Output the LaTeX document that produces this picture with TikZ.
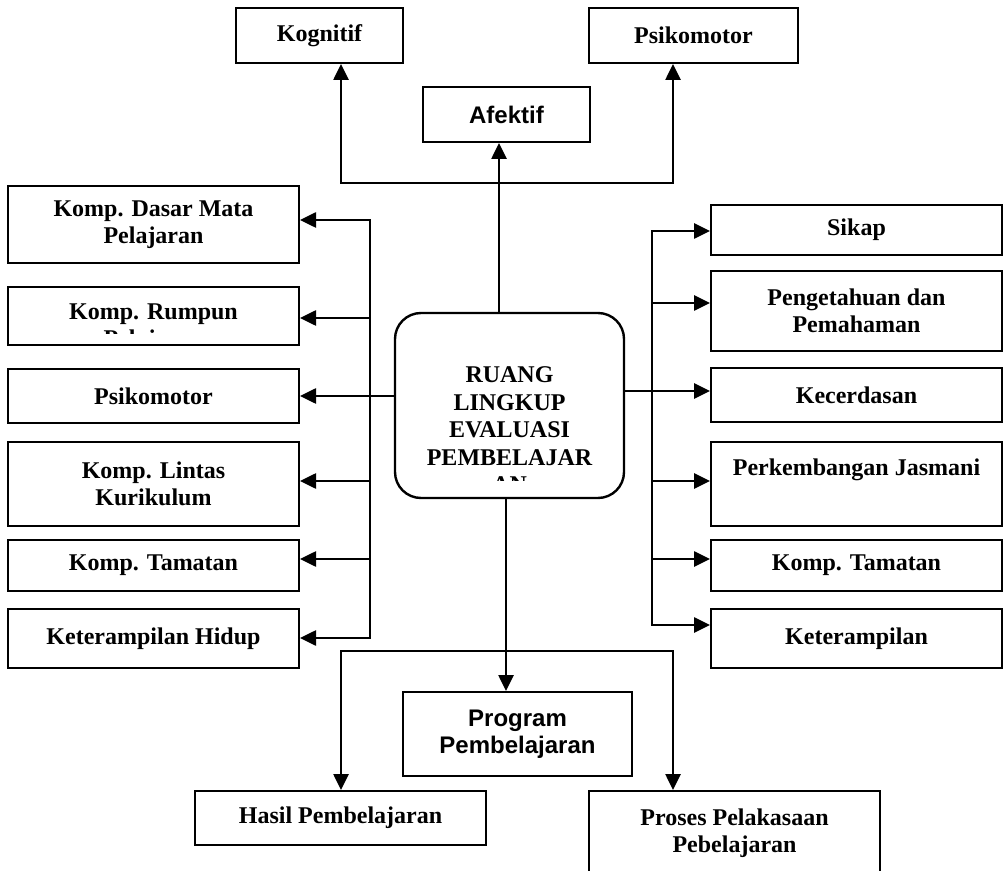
\documentclass[tikz,border=0pt]{standalone}
\usepackage{fontspec}
\setmainfont{Liberation Serif}
\newfontfamily\arialfont{Liberation Sans}
\definecolor{ink}{HTML}{000000}
\usetikzlibrary{arrows.meta}
\tikzset{>={Triangle[length=8pt,width=7.5pt]},
  wh/.style 2 args={minimum width=#1*0.5pt,minimum height=#2*0.5pt},
  box/.style={draw=ink,line width=1pt,align=center,inner sep=2pt,text=ink,
    font=\fontsize{12}{13.5}\selectfont\bfseries},
  sansbox/.style={box,font=\arialfont\fontsize{12}{13.5}\selectfont\bfseries},
  hub/.style={box,rounded corners=13pt,line width=1.2pt},
  txt/.style={align=center,inner sep=0pt,text=ink,font=\fontsize{12}{13.75}\selectfont\bfseries},
  flow/.style={->,line width=1.3pt,draw=ink},
  flowb/.style={flow,<->}}

\begin{document}
\begin{tikzpicture}[x=0.5pt,y=-0.5pt]
  \useasboundingbox (0,0) rectangle (1006,871);
  \clip (0,0) rectangle (1006,871);
  % top row
  \node[box,wh={167}{55}] (kog) at (319.5,35.5) {Kognitif};
  \node[box,wh={209}{55}] (psiT) at (693.5,35.5) {Psikomotor};
  \node[sansbox,wh={167}{55}] (afe) at (506.5,114.5) {Afektif};
  % centre
  \node[hub,wh={229}{185},path picture={
      \clip ([yshift=9pt]path picture bounding box.south west) rectangle (path picture bounding box.north east);
      \node[txt] at ([yshift=-12.25pt]path picture bounding box.center) {RUANG\\LINGKUP\\EVALUASI\\PEMBELAJAR\\AN};}]
    (ctr) at (509.5,405.5) {};
  % left column
  \node[box,wh={291}{77}] (dasar) at (153.5,224.5) {Komp. Dasar Mata\\Pelajaran};
  \node[box,wh={291}{58},path picture={
      \clip ([yshift=5.5pt]path picture bounding box.south west) rectangle (path picture bounding box.north east);
      \node[txt,font=\fontsize{12}{13.5}\selectfont\bfseries] at ([yshift=-6pt]path picture bounding box.center) {Komp. Rumpun\\Pelajaran};}]
    (rumpun) at (153.5,316) {};
  \node[box,wh={291}{54}] (psiL) at (153.5,396) {Psikomotor};
  \node[box,wh={291}{84}] (lintas) at (153.5,484) {Komp. Lintas\\Kurikulum};
  \node[box,wh={291}{51}] (tamL) at (153.5,565.5) {Komp. Tamatan};
  \node[box,wh={291}{59}] (hidup) at (153.5,638.5) {Keterampilan Hidup};
  % right column
  \node[box,wh={291}{50}] (sikap) at (856.5,230) {Sikap};
  \node[box,wh={291}{80}] (tahu) at (856.5,311) {Pengetahuan dan\\Pemahaman};
  \node[box,wh={291}{54}] (cerdas) at (856.5,395) {Kecerdasan};
  \node[box,wh={291}{84},text depth=17pt] (jasmani) at (856.5,484) {Perkembangan Jasmani};
  \node[box,wh={291}{51}] (tamR) at (856.5,565.5) {Komp. Tamatan};
  \node[box,wh={291}{59}] (terampil) at (856.5,638.5) {Keterampilan};
  % bottom row
  \node[sansbox,wh={229}{84}] (prog) at (517.5,734) {Program\\Pembelajaran};
  \node[box,wh={291}{54}] (hasil) at (340.5,818) {Hasil Pembelajaran};
  \node[box,wh={291}{84}] (proses) at (734.5,833) {Proses Pelakasaan\\Pebelajaran};

  % top connectors
  \coordinate (tl) at (341,183); \coordinate (tr) at (673,183); \coordinate (ta) at (499,183);
  \draw[flowb] (kog.south -| tl) |- (tr) -- (psiT.south -| tr);
  \draw[flow] (ctr.north -| ta) -- (afe.south -| ta);
  % left bus
  \coordinate (lt) at (370,220); \coordinate (lb) at (370,638); \coordinate (lc) at (370,396);
  \draw[flowb] (dasar.east |- lt) -- (lt) -- (lb) -- (hidup.east |- lb);
  \foreach \n/\y in {rumpun/318,lintas/481,tamL/559}{
    \coordinate (l\n) at (370,\y);
    \draw[flow] (l\n) -- (l\n -| \n.east);}
  \draw[flow] (ctr.west |- lc) -- (psiL.east |- lc);
  % right bus
  \coordinate (rt) at (652,231); \coordinate (rb) at (652,625); \coordinate (rc) at (652,391);
  \draw[flowb] (sikap.west |- rt) -- (rt) -- (rb) -- (terampil.west |- rb);
  \foreach \n/\y in {tahu/303,jasmani/481,tamR/559}{
    \coordinate (r\n) at (652,\y);
    \draw[flow] (r\n) -- (r\n -| \n.west);}
  \draw[flow] (ctr.east |- rc) -- (cerdas.west |- rc);
  % bottom connectors
  \coordinate (cb) at (506,651); \coordinate (bl) at (341,651); \coordinate (br) at (673,651);
  \draw[flow] (ctr.south -| cb) -- (prog.north -| cb);
  \draw[flowb] (hasil.north -| bl) |- (br) -- (proses.north -| br);
\end{tikzpicture}
\end{document}
